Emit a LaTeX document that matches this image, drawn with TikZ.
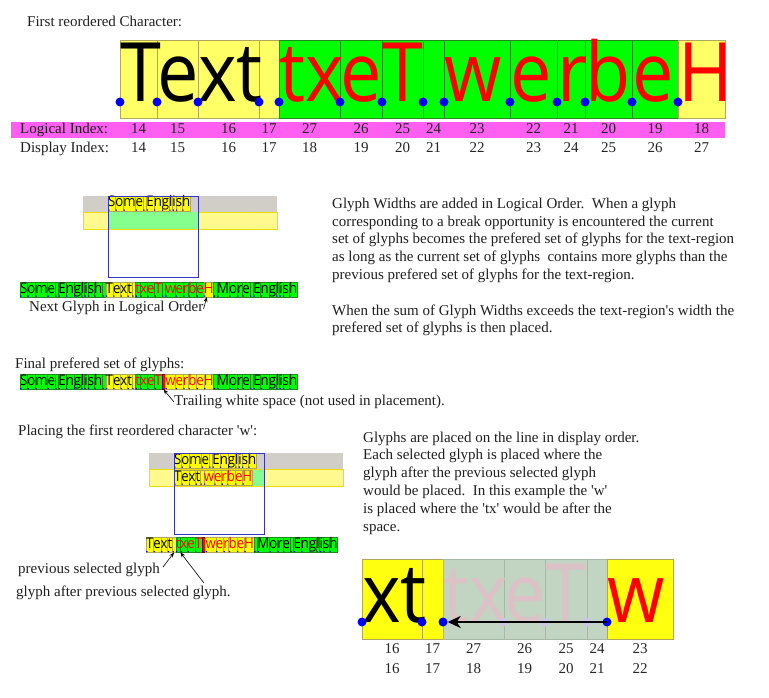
\documentclass[tikz,border=0pt]{standalone}
\usepackage{fontspec}
\setmainfont{Liberation Serif}
\newfontfamily\glyphfont[FakeStretch=0.9]{Open Sans}
\usetikzlibrary{arrows.meta}

\definecolor{celly}{HTML}{FFFF66}
\definecolor{liney}{HTML}{B0A858}
\definecolor{cellg}{HTML}{00FF00}
\definecolor{lineg}{HTML}{1E8A1E}
\definecolor{cellY}{HTML}{FFFF10}
\definecolor{lineY}{HTML}{B0A858}
\definecolor{cellf}{HTML}{C2D4C2}
\definecolor{linef}{HTML}{A8B8A8}
\definecolor{glyellow}{HTML}{FFFF00}
\definecolor{indexpink}{HTML}{FF5FF0}
\definecolor{bandgray}{HTML}{D0CEC6}
\definecolor{bandyellow}{HTML}{FFF98E}
\definecolor{bandline}{HTML}{EEDD00}
\definecolor{lightgreen}{HTML}{86FF8E}
\definecolor{regionblue}{HTML}{3434C4}
\definecolor{dotblue}{HTML}{0000F0}
\definecolor{fadedtext}{HTML}{DCC2C6}
\definecolor{fadeddot}{HTML}{CCC6E6}
\definecolor{spacered}{HTML}{D81818}
\definecolor{glred}{HTML}{FF0000}

\newcommand\sq{\textquotesingle}
\newcommand\gsp{\kern\fontdimen2\font}
\newcommand\stripfont{\glyphfont\fontsize{14.7}{15}\selectfont}
\newcommand\glyphrun[4]{%
  \node[inner sep=0pt,outer sep=0pt,minimum size=0pt] (#1-0) at (#2) {};
  \foreach \glc [count=\i, remember=\i as \lastn (initially 0)] in {#4}{
    \node[#3, anchor=west] (#1-\i) at (#1-\lastn.east) {\glc};
    \fill[dotblue] (#1-\i.south west) ++(0.9,-0.9) circle (0.8);
    \coordinate (#1-end) at (#1-\i.east);
  }
}

\tikzset{
  gl/.style={inner sep=0pt, outer sep=0pt, line width=0.4pt, minimum height=15pt,
    text height=11pt, text depth=4pt, font=\stripfont},
  ygl/.style={gl, fill=glyellow, draw=liney, text=black},
  yrgl/.style={ygl, text=glred},
  ggl/.style={gl, fill=cellg, draw=lineg, text=black},
  grgl/.style={ggl, text=glred},
  spgl/.style={gl, fill=spacered, draw=red!50!black},
  txt/.style={font=\fontsize{15}{18}\selectfont, inner sep=0pt, anchor=base west, text=black!88},
  idx/.style={font=\fontsize{15}{18}\selectfont, inner sep=0pt, anchor=base, text=black!85},
  bigglyph/.style={font=\glyphfont\fontsize{82}{82}\selectfont, inner sep=0pt, anchor=base west},
  bigdot/.style={circle, fill=dotblue, inner sep=0pt, minimum size=9pt},
  smallarrow/.style={-{Stealth[length=5pt,width=4pt]}, line width=0.6pt},
  bigarrow/.style={-{Stealth[length=13pt,width=12pt,inset=4pt]}, line width=2.4pt}
}

\def\toprow{120/157/T/y/black/14/14, 157/198/e/y/black/15/15, 198/259/xt/y/black/16/16,
  259/279/\relax/y/black/17/17, 279/340/tx/g/glred/27/18, 340/382/e/g/glred/26/19,
  382/423/T/g/glred/25/20, 423/444/\relax/g/glred/24/21, 444/510/w/g/glred/23/22,
  510/557/e/g/glred/22/23, 557/585/r/g/glred/21/24, 585/632/b/g/glred/20/25,
  632/678/e/g/glred/19/26, 678/725/H/y/glred/18/27}
\def\botrow{362/422/xt/Y/black/16/16/dotblue, 422/443/\relax/Y/black/17/17/dotblue,
  443/504/tx/f/fadedtext/27/18/dotblue, 504/545/e/f/fadedtext/26/19/fadeddot,
  545/587/T/f/fadedtext/25/20/fadeddot, 587/607/\relax/f/fadedtext/24/21/fadeddot,
  607/673/w/Y/glred/23/22/dotblue}

\begin{document}
\begin{tikzpicture}[x=1pt,y=-1pt]
\useasboundingbox (0,0) rectangle (769,698);

% first reordered character
\node[txt] (title) at (27,27) {First reordered Character:};
\fill[indexpink] (11,122) rectangle (725,138);
\node[txt] (loglbl) at (20,133.5) {Logical Index:};
\node[txt] (displbl) at (20,153) {Display Index:};
\foreach \xa/\xb/\gly/\kd/\tc/\lgi/\dsi [count=\i] in \toprow {
  \draw[fill=cell\kd, draw=line\kd, line width=0.8pt] (\xa,40) rectangle (\xb,118);
  \node[idx] (tl\i) at ({(\xa+\xb)/2},133.5) {\lgi};
  \node[idx] (td\i) at ({(\xa+\xb)/2},153) {\dsi};
}
\foreach \xa/\xb/\gly/\kd/\tc/\lgi/\dsi [count=\i] in \toprow {
  \node[bigglyph, text=\tc] (tg\i) at (\xa,102) {\gly};
  \node[bigdot] (tdot\i) at (\xa,102) {};
}

% logical order
\fill[bandgray] (83,196) rectangle (277,212);
\filldraw[fill=bandyellow, draw=bandline, line width=0.8pt] (83,212) rectangle (277,229);
\fill[lightgreen] (108,212.5) rectangle (198,228.5);
\glyphrun{ma}{108,203.5}{ygl}{S,o,m,e,\gsp,E,n,g,l,i,s,h}
\draw[regionblue, line width=0.9pt] (108,196) rectangle (198,277);

\glyphrun{la}{20,289.5}{ggl}{S,o,m,e,\gsp,E,n,g,l,i,s,h,\gsp}
\glyphrun{lb}{la-end}{ygl}{T,e,x,t,\gsp}
\glyphrun{lc}{lb-end}{grgl}{t,x,e,T,\gsp,w,e,r,b,e}
\glyphrun{ld}{lc-end}{yrgl}{H}
\glyphrun{le}{ld-end}{ggl}{\gsp,M,o,r,e,\gsp,E,n,g,l,i,s,h}
\node[txt] (nextlbl) at (29,311) {Next Glyph in Logical Order};
\draw[smallarrow] ([yshift=2pt]nextlbl.base east) -- ([xshift=-2pt]ld-1.south);

\foreach \y/\wline in {208/Glyph Widths are added in Logical Order.\ \ When a glyph,
  226/corresponding to a break opportunity is encountered the current,
  243.5/set of glyphs becomes the prefered set of glyphs for the text-region,
  261.3/as long as the current set of glyphs\ \ contains more glyphs than the,
  279/previous prefered set of glyphs for the text-region.,
  315/When the sum of Glyph Widths exceeds the text-region\sq s width the,
  332.5/prefered set of glyphs is then placed.}
  \node[txt] at (332,\y) {\wline};

% final prefered set
\node[txt] (finallbl) at (15,368) {Final prefered set of glyphs:};
\glyphrun{fa}{20,382}{ggl}{S,o,m,e,\gsp,E,n,g,l,i,s,h,\gsp}
\glyphrun{fb}{fa-end}{ygl}{T,e,x,t,\gsp}
\glyphrun{fc}{fb-end}{grgl}{t,x,e,T}
\glyphrun{fd}{fc-end}{spgl}{\gsp}
\glyphrun{fe}{fd-end}{yrgl}{w,e,r,b,e,H}
\glyphrun{ff}{fe-end}{ggl}{\gsp,M,o,r,e,\gsp,E,n,g,l,i,s,h}
\node[txt] (traillbl) at (174,405) {Trailing white space (not used in placement).};
\draw[smallarrow] ([yshift=3pt]traillbl.base west) -- (fd-1.south);

% placing
\node[txt] (placelbl) at (18,435) {Placing the first reordered character \sq w\sq:};
\fill[bandgray] (149,453) rectangle (343,469);
\filldraw[fill=bandyellow, draw=bandline, line width=0.8pt] (149,469) rectangle (343,486);
\fill[lightgreen] (174,469.5) rectangle (264,485.5);
\glyphrun{pa}{174,460.5}{ygl}{S,o,m,e,\gsp,E,n,g,l,i,s,h}
\glyphrun{pb}{174,477.5}{ygl}{T,e,x,t,\gsp}
\glyphrun{pc}{pb-end}{yrgl}{w,e,r,b,e,H}
\draw[regionblue, line width=0.9pt] (174,453) rectangle (264,534);

\glyphrun{sa}{146,545}{ygl}{T,e,x,t,\gsp}
\glyphrun{sb}{sa-end}{grgl}{t,x,e,T}
\glyphrun{sc}{sb-end}{spgl}{\gsp}
\glyphrun{sd}{sc-end}{yrgl}{w,e,r,b,e,H}
\glyphrun{se}{sd-end}{ggl}{\gsp,M,o,r,e,\gsp,E,n,g,l,i,s,h}
\node[txt] (prevlbl) at (18,573) {previous selected glyph};
\node[txt] (afterlbl) at (16,596) {glyph after previous selected glyph.};
\draw[smallarrow] ([xshift=3pt,yshift=6pt]prevlbl.base east) -- (sa-5.south);
\draw[smallarrow] ([xshift=-27pt,yshift=13pt]afterlbl.base east) -- (sb-1.south east);

\foreach \y/\wline in {442/Glyphs are placed on the line in display order.,
  459.9/Each selected glyph is placed where the,
  477.8/glyph after the previous selected glyph,
  495.7/would be placed.\ \ In this example the \sq w\sq,
  513.6/is placed where the \sq tx\sq\ would be after the,
  531.5/space.}
  \node[txt] at (363,\y) {\wline};

% placed glyphs
\foreach \xa/\xb/\gly/\kd/\tc/\lgi/\dsi/\dc [count=\i] in \botrow {
  \draw[fill=cell\kd, draw=line\kd, line width=0.8pt] (\xa,559) rectangle (\xb,639);
  \node[idx] (bl\i) at ({(\xa+\xb)/2},653) {\lgi};
  \node[idx] (bdi\i) at ({(\xa+\xb)/2},673) {\dsi};
}
\foreach \xa/\xb/\gly/\kd/\tc/\lgi/\dsi/\dc [count=\i] in \botrow {
  \node[bigglyph, text=\tc] (bg\i) at (\xa,622) {\gly};
  \node[bigdot, fill=\dc] (bd\i) at (\xa,622) {};
}
\draw[bigarrow] (bd7.center) -- (bd3);
\end{tikzpicture}
\end{document}
